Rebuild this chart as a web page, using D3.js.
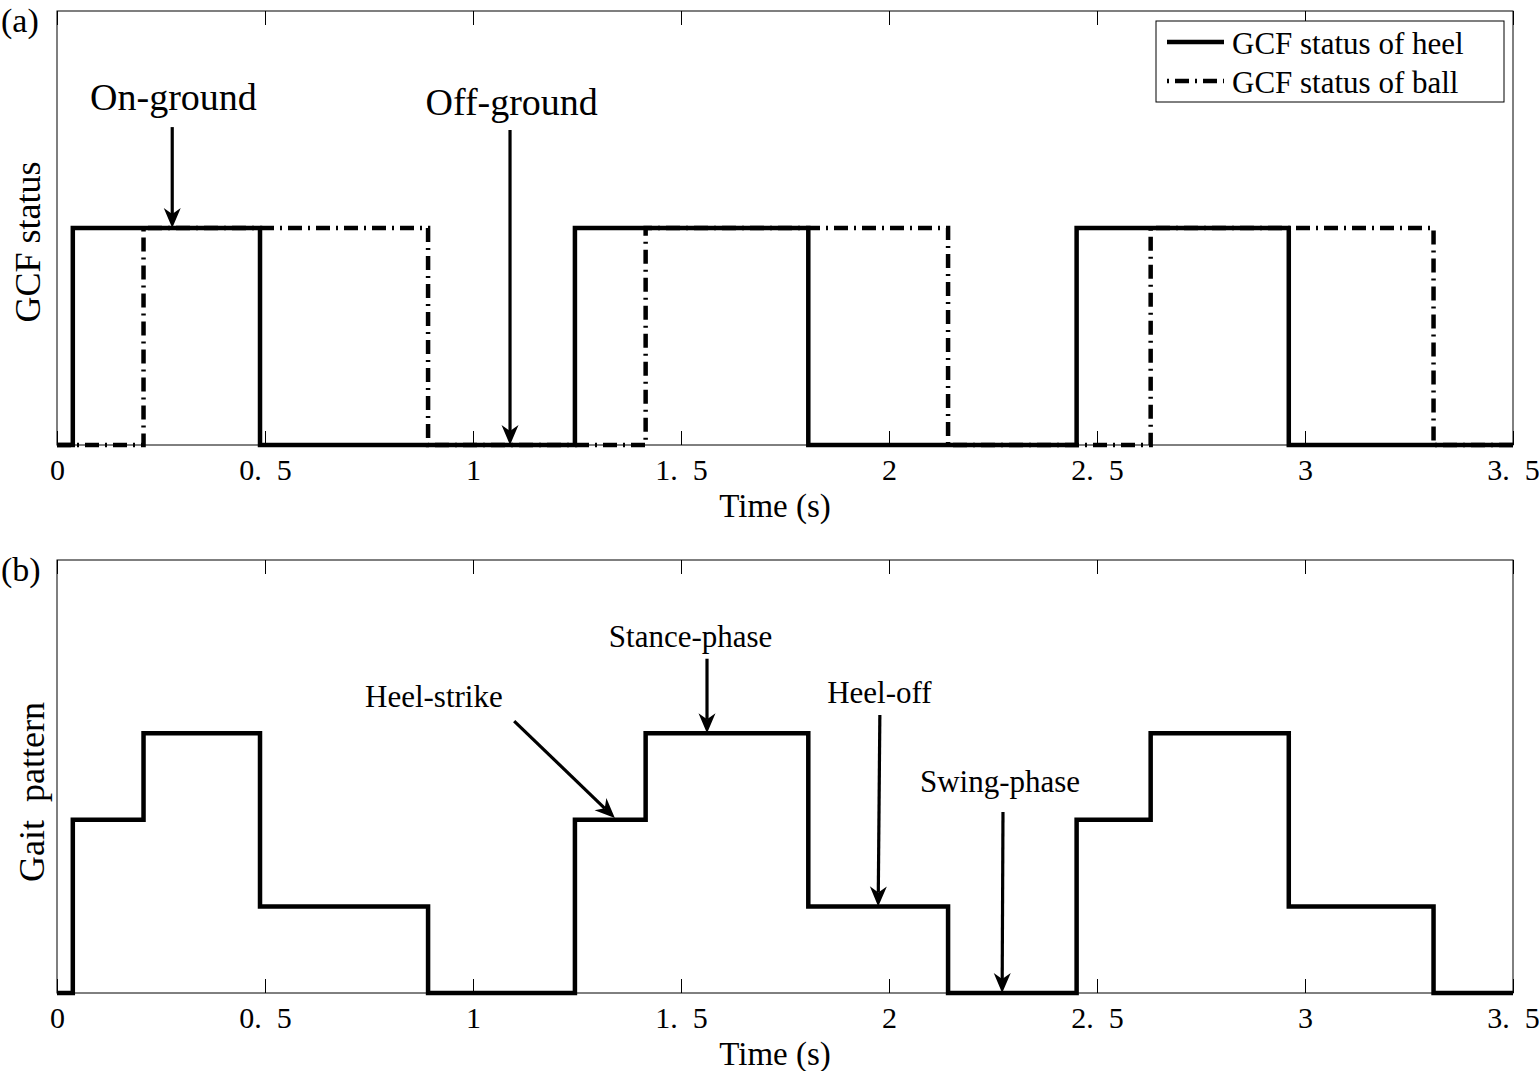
<!DOCTYPE html>
<html>
<head>
<meta charset="utf-8">
<script src="https://cdn.jsdelivr.net/npm/d3@7"></script>
<style>
  body { margin: 0; background: #fff; }
  svg text { font-family: "Liberation Serif", "Times New Roman", serif; fill: #000; white-space: pre; }
</style>
</head>
<body>
<svg id="fig" width="1539" height="1071"></svg>
<script>
// ---- data ----
var xTicks = [0, 0.5, 1, 1.5, 2, 2.5, 3, 3.5];

// GCF status of heel: switch times and value after each switch
var heelTimes = [0, 0.038, 0.488, 1.245, 1.806, 2.451, 2.961, 3.5];
var heelStatus = [0, 1, 0, 1, 0, 1, 0, 0];

// GCF status of ball
var ballTimes = [0, 0.208, 0.892, 1.415, 2.142, 2.629, 3.309, 3.5];
var ballStatus = [0, 1, 0, 1, 0, 1, 0, 0];

// gait pattern: 0 swing, 1 heel-off, 2 heel-strike, 3 stance
var gaitTimes = [0, 0.038, 0.208, 0.488, 0.892, 1.245, 1.415, 1.806, 2.142, 2.451, 2.629, 2.961, 3.309, 3.5];
var gaitLevel = [0, 2, 3, 1, 0, 2, 3, 1, 0, 2, 3, 1, 0, 0];

var legendLabels = ['GCF status of heel', 'GCF status of ball'];

// annotations: text position + arrow from/to, in data units
var notesA = [
    {text: 'On-ground', tx: 0.28, ty: 1.544, x1: 0.277, y1: 1.465, x2: 0.277, y2: 1.0},
    {text: 'Off-ground', tx: 1.093, ty: 1.521, x1: 1.089, y1: 1.452, x2: 1.089, y2: 0}
];
var notesB = [
    {text: 'Heel-strike', tx: 0.906, ty: 3.30, x1: 1.099, y1: 3.14, x2: 1.341, y2: 2.02},
    {text: 'Stance-phase', tx: 1.523, ty: 4.0, x1: 1.5625, y1: 3.86, x2: 1.5625, y2: 3.0},
    {text: 'Heel-off', tx: 1.977, ty: 3.35, x1: 1.978, y1: 3.21, x2: 1.974, y2: 1.0},
    {text: 'Swing-phase', tx: 2.267, ty: 2.32, x1: 2.274, y1: 2.09, x2: 2.272, y2: 0}
];

// ---- layout ----
var svg = d3.select('#fig');
var left = 57, plotW = 1456;
var panelA = {top: 11, height: 434, ymax: 2, ylabX: 40, ylabY: 242};
var panelB = {top: 560, height: 433, ymax: 5, ylabX: 44, ylabY: 792};

var x = d3.scaleLinear().domain([0, 3.5]).range([0, plotW]);

function zip(ts, vs) {
    return ts.map(function(t, i) { return {t: t, v: vs[i]}; });
}

function makePanel(p, label, ylabel) {
    var g = svg.append('g').attr('transform', 'translate(' + left + ',' + p.top + ')');
    var y = d3.scaleLinear().domain([0, p.ymax]).range([p.height, 0]);

    g.append('rect')
        .attr('x', 0).attr('y', 0)
        .attr('width', plotW).attr('height', p.height)
        .attr('fill', 'none').attr('stroke', '#000').attr('stroke-width', 1);

    var bottom = g.append('g')
        .attr('transform', 'translate(0,' + p.height + ')')
        .call(d3.axisBottom(x).tickValues(xTicks).tickSizeInner(-14).tickSizeOuter(0).tickPadding(14)
            .tickFormat(function(d) { return String(d); }));
    bottom.select('.domain').remove();
    bottom.selectAll('line').attr('stroke', '#000');
    // MATLAB-style wide decimal point: split label into two tspans
    bottom.selectAll('text')
        .attr('font-size', 30)
        .attr('font-family', '"Liberation Serif", serif')
        .each(function(d) {
            var s = String(d);
            var t = d3.select(this).text(null);
            if (s.indexOf('.') < 0) { t.text(s); return; }
            var parts = s.split('.');
            t.append('tspan').text(parts[0] + '.');
            t.append('tspan').attr('dx', 15).text(parts[1]);
        });

    var top = g.append('g')
        .call(d3.axisTop(x).tickValues(xTicks).tickSizeInner(-14).tickSizeOuter(0).tickFormat(''));
    top.select('.domain').remove();
    top.selectAll('line').attr('stroke', '#000');

    g.append('text')
        .attr('x', plotW / 2 - 10).attr('y', p.height + 72)
        .attr('text-anchor', 'middle').attr('font-size', 33)
        .text('Time (s)');

    svg.append('text')
        .attr('transform', 'translate(' + p.ylabX + ',' + p.ylabY + ') rotate(-90)')
        .attr('text-anchor', 'middle').attr('font-size', 36)
        .text(ylabel);

    svg.append('text')
        .attr('x', 1).attr('y', p.top + 21)
        .attr('font-size', 34)
        .text(label);

    return {g: g, y: y};
}

var A = makePanel(panelA, '(a)', 'GCF status');
var B = makePanel(panelB, '(b)', 'Gait  pattern');

function stepLine(y) {
    return d3.line().x(function(d) { return x(d.t); }).y(function(d) { return y(d.v); }).curve(d3.curveStepAfter);
}

// heel (solid) and ball (dash-dot) in panel a
A.g.append('path')
    .datum(zip(ballTimes, ballStatus))
    .attr('d', stepLine(A.y))
    .attr('fill', 'none').attr('stroke', '#000').attr('stroke-width', 4.5)
    .attr('stroke-dasharray', '14,6,2,6');
A.g.append('path')
    .datum(zip(heelTimes, heelStatus))
    .attr('d', stepLine(A.y))
    .attr('fill', 'none').attr('stroke', '#000').attr('stroke-width', 4.5)
    .attr('stroke-linejoin', 'miter');

// gait pattern in panel b
B.g.append('path')
    .datum(zip(gaitTimes, gaitLevel))
    .attr('d', stepLine(B.y))
    .attr('fill', 'none').attr('stroke', '#000').attr('stroke-width', 4.5)
    .attr('stroke-linejoin', 'miter');

// legend
var leg = svg.append('g').attr('transform', 'translate(1156,21)');
leg.append('rect').attr('width', 348).attr('height', 81)
    .attr('fill', '#fff').attr('stroke', '#000').attr('stroke-width', 1);
legendLabels.forEach(function(lab, i) {
    var yy = 21 + i * 39;
    leg.append('line')
        .attr('x1', 11).attr('x2', 68).attr('y1', yy).attr('y2', yy)
        .attr('stroke', '#000').attr('stroke-width', 4.5)
        .attr('stroke-dasharray', i === 0 ? null : '2,6,14,6');
    leg.append('text')
        .attr('x', 76).attr('y', yy + 12)
        .attr('font-size', 31)
        .text(lab);
});

// arrows
function drawNotes(P, notes, fontSize) {
    notes.forEach(function(n) {
        P.g.append('text')
            .attr('x', x(n.tx)).attr('y', P.y(n.ty))
            .attr('text-anchor', 'middle').attr('font-size', fontSize)
            .text(n.text);
        var x1 = x(n.x1), y1 = P.y(n.y1), x2 = x(n.x2), y2 = P.y(n.y2);
        var ang = Math.atan2(y2 - y1, x2 - x1);
        var len = 20, hw = 8.5, notch = 14;
        var ux = Math.cos(ang), uy = Math.sin(ang);
        var bx = x2 - ux * len, by = y2 - uy * len;
        var nx = x2 - ux * notch, ny = y2 - uy * notch;
        P.g.append('line')
            .attr('x1', x1).attr('y1', y1).attr('x2', nx).attr('y2', ny)
            .attr('stroke', '#000').attr('stroke-width', 3.2);
        var head = [[x2, y2], [bx - uy * hw, by + ux * hw], [nx, ny], [bx + uy * hw, by - ux * hw]];
        P.g.append('path')
            .attr('d', 'M' + head.map(function(p) { return p.join(','); }).join('L') + 'Z')
            .attr('fill', '#000');
    });
}
drawNotes(A, notesA, 38);
drawNotes(B, notesB, 31);
</script>
</body>
</html>
